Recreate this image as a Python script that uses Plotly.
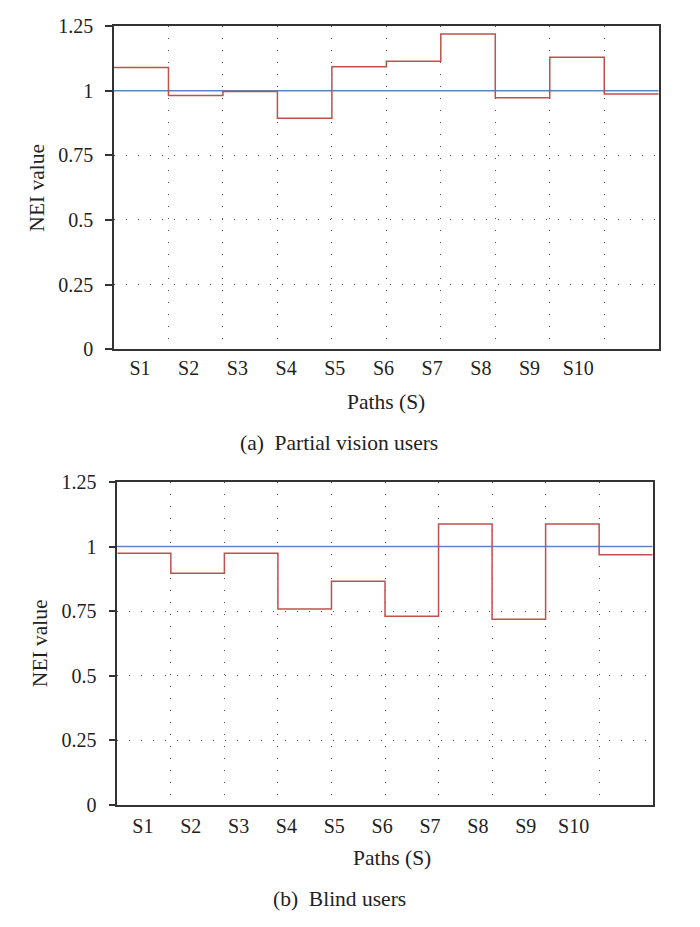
import plotly.graph_objects as go

paths = ["S1", "S2", "S3", "S4", "S5", "S6", "S7", "S8", "S9", "S10"]
nei_partial = [1.090, 0.981, 0.997, 0.893, 1.092, 1.114, 1.219, 0.973, 1.129, 0.987]
nei_blind = [0.974, 0.896, 0.974, 0.758, 0.865, 0.730, 1.087, 0.718, 1.087, 0.968]
reference_level = 1.0
y_ticks = [0, 0.25, 0.5, 0.75, 1, 1.25]
y_tick_text = ["0", "0.25", "0.5", "0.75", "1", "1.25"]
x_title = "Paths (S)"
y_title = "NEI value"
captions = ["(a)  Partial vision users", "(b)  Blind users"]

RED = "#c0504d"
BLUE = "#5b86c0"
AXC = "#333333"
GRIDC = "#555555"
TXT = "#222222"
FONT = "Liberation Serif"
FS = 21.5
FS_TICK = 20

n = len(paths)
edges = list(range(n + 1))
label_pos = [0.477 + 0.894 * i for i in range(n)]

fig = go.Figure()

for k, vals in enumerate([nei_partial, nei_blind]):
    xa = "x" if k == 0 else "x2"
    ya = "y" if k == 0 else "y2"
    fig.add_trace(go.Scatter(x=[0, n], y=[reference_level, reference_level], mode="lines",
                             line=dict(color=BLUE, width=1.5), xaxis=xa, yaxis=ya,
                             showlegend=False, hoverinfo="skip"))
    fig.add_trace(go.Scatter(x=edges, y=vals + [vals[-1]], mode="lines",
                             line=dict(color=RED, width=1.5, shape="hv"), xaxis=xa, yaxis=ya,
                             showlegend=False))

W, H = 700, 927
xdoms = [[114 / W, 658.7 / W], [117.3 / W, 652.7 / W]]
ydoms = [[1 - 349.3 / H, 1 - 26 / H], [1 - 804.5 / H, 1 - 482 / H]]
x_label_standoff = [0, 3]

for k in range(2):
    xname = "xaxis" if k == 0 else "xaxis2"
    yname = "yaxis" if k == 0 else "yaxis2"
    fig.layout[xname] = dict(
        domain=xdoms[k], range=[0, n], anchor="y" if k == 0 else "y2",
        tickmode="array", tickvals=label_pos, ticktext=paths, ticks="",
        ticklabelstandoff=x_label_standoff[k],
        showgrid=False, zeroline=False, showline=True, linecolor=AXC, linewidth=1.5,
        mirror=True, tickfont=dict(family=FONT, size=FS_TICK, color=TXT),
        minor=dict(tickmode="array", tickvals=edges[1:-1], showgrid=True,
                   gridcolor=GRIDC, griddash="1px,11px", gridwidth=1, ticks=""),
        automargin=False, fixedrange=True,
    )
    fig.layout[yname] = dict(
        domain=ydoms[k], range=[0, 1.25], anchor="x" if k == 0 else "x2",
        tickmode="array", tickvals=y_ticks, ticktext=y_tick_text,
        ticks="outside", ticklen=7, tickwidth=1.5, tickcolor=AXC,
        ticklabelstandoff=8,
        showgrid=True, gridcolor=GRIDC, griddash="1px,11px", gridwidth=1,
        zeroline=False, showline=True, linecolor=AXC, linewidth=1.5, mirror=True,
        tickfont=dict(family=FONT, size=FS_TICK, color=TXT),
        automargin=False, fixedrange=True,
    )

# axis titles and captions (pixel centres)
ytitle_x = [37, 40]
ytitle_y = [(26 + 349.3) / 2, (482 + 804.3) / 2]
xtitle_x = [386, 392]
xtitle_y = [401.7, 858]
cap_x = [339, 339]
cap_y = [443, 899]
for k in range(2):
    fig.add_annotation(text=y_title, xref="paper", yref="paper", x=ytitle_x[k] / W,
                       y=1 - ytitle_y[k] / H, textangle=-90, xanchor="center", yanchor="middle",
                       showarrow=False, font=dict(family=FONT, size=FS, color=TXT))
    fig.add_annotation(text=x_title, xref="paper", yref="paper", x=xtitle_x[k] / W,
                       y=1 - xtitle_y[k] / H, xanchor="center", yanchor="middle",
                       showarrow=False, font=dict(family=FONT, size=FS, color=TXT))
    fig.add_annotation(text=captions[k], xref="paper", yref="paper", x=cap_x[k] / W,
                       y=1 - cap_y[k] / H, xanchor="center", yanchor="middle",
                       showarrow=False, font=dict(family=FONT, size=FS, color=TXT))

fig.update_layout(width=W, height=H, margin=dict(l=0, r=0, t=0, b=0, pad=0),
                  paper_bgcolor="white", plot_bgcolor="white")

fig.write_html("out.html", config={"displayModeBar": False},
               post_script="document.body.style.margin='0px';document.body.style.padding='0px';")
